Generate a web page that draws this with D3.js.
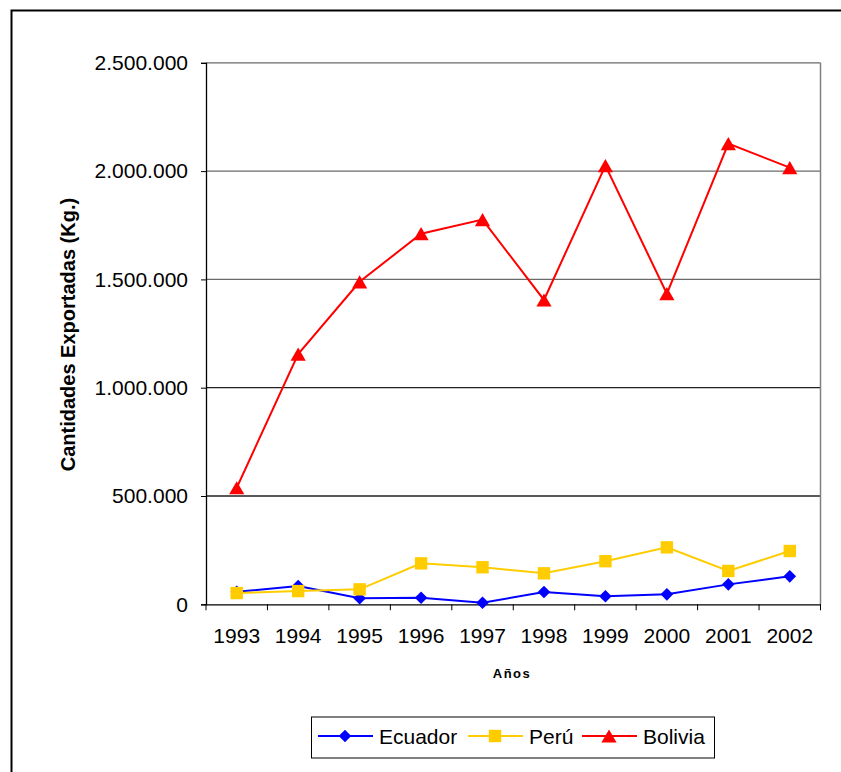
<!DOCTYPE html>
<html>
<head>
<meta charset="utf-8">
<script src="https://cdn.jsdelivr.net/npm/d3@7"></script>
<style>
  body { margin: 0; background: #fff; }
  svg { display: block; font-family: "Liberation Sans", Arial, sans-serif; }
</style>
</head>
<body>
<svg id="chart" width="841" height="772"></svg>
<script>
// Exported quantities (Kg.) by country, 1993–2002
const years = ["1993","1994","1995","1996","1997","1998","1999","2000","2001","2002"];
const ecuador = [58000, 84000, 28000, 30000, 7000, 57000, 37000, 46000, 92000, 129000];
const peru    = [52000, 61000, 69000, 189000, 171000, 143000, 199000, 263000, 154000, 246000];
const bolivia = [538000, 1155000, 1489000, 1711000, 1776000, 1405000, 2025000, 1434000, 2127000, 2016000];
const yTicks  = [0, 500000, 1000000, 1500000, 2000000, 2500000];

// marker shapes, each centred on its bounding box
const diamond = { draw(ctx, s) { const r = 6.3; ctx.moveTo(0, -r); ctx.lineTo(r, 0); ctx.lineTo(0, r); ctx.lineTo(-r, 0); ctx.closePath(); } };
const square  = { draw(ctx, s) { const r = 6.2; ctx.moveTo(-r, -r); ctx.lineTo(r, -r); ctx.lineTo(r, r); ctx.lineTo(-r, r); ctx.closePath(); } };
const triangle = { draw(ctx, s) { const w = 7.6, h = 6.6; ctx.moveTo(0, -h); ctx.lineTo(w, h); ctx.lineTo(-w, h); ctx.closePath(); } };

const seriesList = [
  { name: "Ecuador", values: ecuador, color: "#0000FF", symbol: diamond },
  { name: "Perú",    values: peru,    color: "#FFCC00", symbol: square },
  { name: "Bolivia", values: bolivia, color: "#FF0000", symbol: triangle }
];

const svg = d3.select("#chart");

// outer chart frame
svg.append("rect")
  .attr("x", 11.5).attr("y", 10.5)
  .attr("width", 860).attr("height", 800)
  .attr("fill", "none").attr("stroke", "#000").attr("stroke-width", 2);

const plot = { left: 206, right: 820.5, top: 62.8, bottom: 604.3 };

const x = d3.scaleBand().domain(years).range([plot.left, plot.right]);
const y = d3.scaleLinear().domain([0, 2500000]).range([plot.bottom, plot.top]);

const fmt = v => d3.format(",")(v).replace(/,/g, ".");
const FONT = "Liberation Sans, Arial, sans-serif";

// gridlines
svg.append("g")
  .selectAll("line")
  .data(yTicks.filter(d => d > 0))
  .join("line")
  .attr("x1", plot.left).attr("x2", plot.right)
  .attr("y1", d => y(d)).attr("y2", d => y(d))
  .attr("stroke", d => d <= 1000000 ? "#222" : "#6a6a6a")
  .attr("stroke-width", 1.3);

// right plot border
svg.append("line")
  .attr("x1", plot.right).attr("x2", plot.right)
  .attr("y1", plot.top).attr("y2", plot.bottom)
  .attr("stroke", "#808080").attr("stroke-width", 1.5);

// y axis
const yAxis = svg.append("g")
  .attr("transform", `translate(${plot.left},0)`)
  .call(d3.axisLeft(y).tickValues(yTicks).tickFormat(fmt).tickSize(5).tickPadding(13));
yAxis.select(".domain").attr("stroke", "#000").attr("stroke-width", 1.3);
yAxis.selectAll(".tick line").attr("stroke", "#000");
yAxis.selectAll(".tick text")
  .attr("font-size", 21).attr("fill", "#000").attr("font-family", FONT);

// x axis
const xAxis = svg.append("g")
  .attr("transform", `translate(0,${plot.bottom})`)
  .call(d3.axisBottom(x).tickSize(0).tickPadding(24));
xAxis.select(".domain").attr("stroke", "#000").attr("stroke-width", 1.3);
xAxis.selectAll(".tick text")
  .attr("font-size", 21).attr("fill", "#000").attr("font-family", FONT);

// category boundary ticks on x axis
const bounds = years.map(d => x(d)).concat([plot.right]);
svg.append("g")
  .selectAll("line")
  .data(bounds)
  .join("line")
  .attr("x1", d => d).attr("x2", d => d)
  .attr("y1", plot.bottom).attr("y2", plot.bottom + 6)
  .attr("stroke", "#000").attr("stroke-width", 1);

// axis titles
svg.append("text")
  .attr("transform", `translate(75,${(plot.top + plot.bottom) / 2 + 1}) rotate(-90)`)
  .attr("text-anchor", "middle")
  .attr("font-size", 20).attr("font-weight", "bold")
  .text("Cantidades Exportadas (Kg.)");

svg.append("text")
  .attr("x", 512).attr("y", 678)
  .attr("text-anchor", "middle")
  .attr("font-size", 13).attr("font-weight", "bold")
  .attr("letter-spacing", 1.5)
  .text("Años");

// series lines and markers
const line = d3.line()
  .x((d, i) => x(years[i]) + x.bandwidth() / 2)
  .y(d => y(d));

seriesList.forEach(s => {
  const g = svg.append("g");
  g.append("path")
    .datum(s.values)
    .attr("d", line)
    .attr("fill", "none")
    .attr("stroke", s.color)
    .attr("stroke-width", 2);
  g.selectAll("path.m")
    .data(s.values)
    .join("path")
    .attr("class", "m")
    .attr("d", d3.symbol().type(s.symbol))
    .attr("transform", (d, i) => `translate(${x(years[i]) + x.bandwidth() / 2},${y(d)})`)
    .attr("fill", s.color);
});

// legend
const legend = svg.append("g");
legend.append("rect")
  .attr("x", 311.5).attr("y", 717)
  .attr("width", 403).attr("height", 41)
  .attr("fill", "#fff").attr("stroke", "#000").attr("stroke-width", 1);

const legendX = [318, 468, 582];
seriesList.forEach((s, i) => {
  const lx = legendX[i];
  const ly = 736;
  legend.append("line")
    .attr("x1", lx).attr("x2", lx + 55)
    .attr("y1", ly).attr("y2", ly)
    .attr("stroke", s.color).attr("stroke-width", 2);
  legend.append("path")
    .attr("d", d3.symbol().type(s.symbol))
    .attr("transform", `translate(${lx + 27},${ly})`)
    .attr("fill", s.color);
  legend.append("text")
    .attr("x", lx + 61).attr("y", ly + 7.5)
    .attr("font-size", 21).attr("font-family", FONT)
    .text(s.name);
});
</script>
</body>
</html>
